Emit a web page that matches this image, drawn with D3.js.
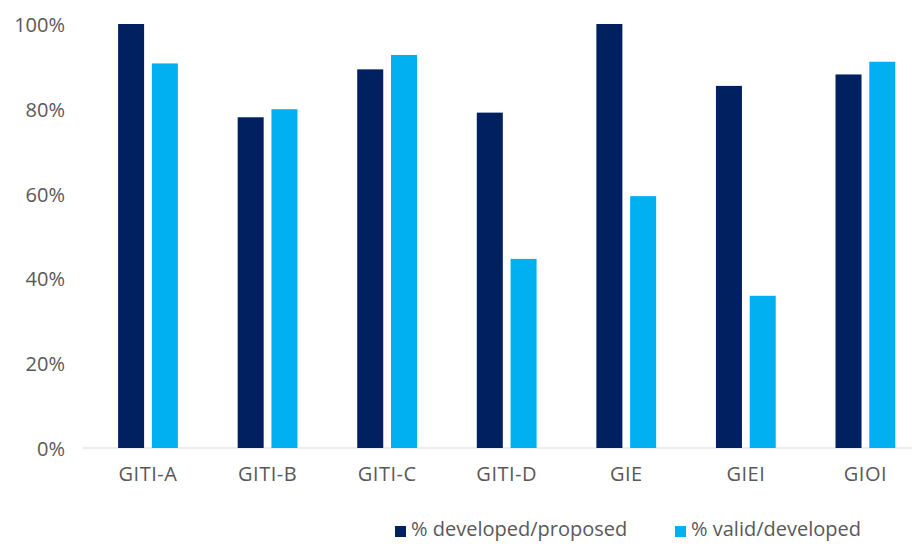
<!DOCTYPE html>
<html>
<head>
<meta charset="utf-8">
<script src="https://cdn.jsdelivr.net/npm/d3@7"></script>
<style>
  html, body { margin: 0; padding: 0; background: #fff; }
  svg { display: block; }
  text { font-family: "Open Sans", "Noto Sans", sans-serif; fill: #595959; }
</style>
</head>
<body>
<svg id="chart" width="912" height="544"></svg>
<script>
const categories = ["GITI-A", "GITI-B", "GITI-C", "GITI-D", "GIE", "GIEI", "GIOI"];
const seriesNames = ["% developed/proposed", "% valid/developed"];
const developedProposed = [1.00, 0.78, 0.893, 0.791, 1.00, 0.854, 0.881];
const validDeveloped = [0.907, 0.799, 0.927, 0.446, 0.594, 0.359, 0.911];
const yTicks = [0, 0.2, 0.4, 0.6, 0.8, 1.0];
const colors = ["#002060", "#00B0F0"];

const svg = d3.select("#chart");
const W = 912, H = 544;
const left = 88.2, step = 119.57;
const y = d3.scaleLinear().domain([0, 1]).range([448, 24]);
const x = d3.scaleBand().domain(categories)
  .range([left, left + step * categories.length])
  .paddingInner(0.5).paddingOuter(0.25);
const xs = d3.scaleBand().domain(seriesNames).range([0, x.bandwidth()])
  .paddingInner(0.23).paddingOuter(0);

// baseline
svg.append("line")
  .attr("x1", 83).attr("x2", W)
  .attr("y1", y(0)).attr("y2", y(0))
  .attr("stroke", "#d9d9d9").attr("stroke-width", 1);

// y axis labels
const yAxis = d3.axisLeft(y).tickValues(yTicks).tickFormat(d3.format(".0%")).tickSize(0).tickPadding(0);
const gy = svg.append("g").attr("transform", "translate(65,1)").call(yAxis);
gy.select(".domain").remove();
gy.selectAll("text").attr("font-size", 20).attr("fill", "#595959")
  .attr("font-family", "Open Sans, sans-serif");

// x axis labels
const xAxis = d3.axisBottom(x).tickSize(0).tickPadding(0);
const gx = svg.append("g").attr("transform", "translate(0,467)").call(xAxis);
gx.select(".domain").remove();
gx.selectAll("text").attr("font-size", 20).attr("fill", "#595959")
  .attr("letter-spacing", "0.5px")
  .attr("font-family", "Open Sans, sans-serif");

// bars
const data = categories.map((c, i) => ({ cat: c, vals: [developedProposed[i], validDeveloped[i]] }));
const groups = svg.append("g").selectAll("g").data(data).join("g")
  .attr("transform", d => `translate(${x(d.cat)},0)`);
groups.selectAll("rect")
  .data(d => d.vals.map((v, j) => ({ s: seriesNames[j], v, j })))
  .join("rect")
  .attr("x", d => xs(d.s))
  .attr("width", xs.bandwidth())
  .attr("y", d => y(d.v))
  .attr("height", d => y(0) - y(d.v))
  .attr("fill", d => colors[d.j]);

// legend
const legendX = [395, 675];
const lg = svg.append("g");
seriesNames.forEach((s, i) => {
  lg.append("rect").attr("x", legendX[i]).attr("y", 526).attr("width", 11).attr("height", 11)
    .attr("fill", colors[i]);
  lg.append("text").attr("x", legendX[i] + 16).attr("y", 531)
    .attr("dominant-baseline", "middle")
    .attr("font-size", 20).text(s);
});
</script>
</body>
</html>
